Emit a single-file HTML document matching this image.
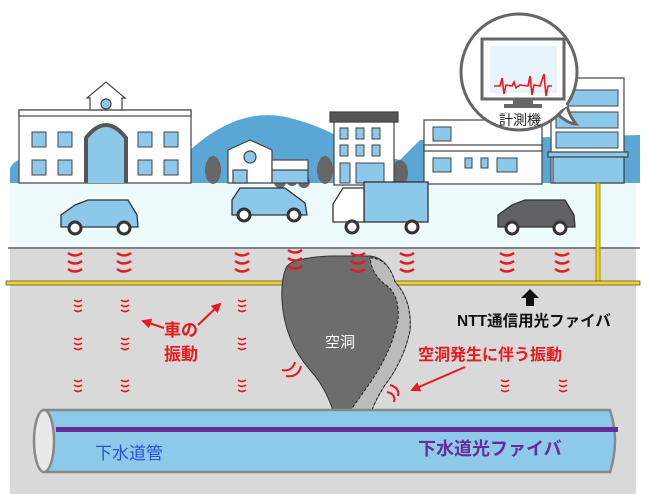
<!DOCTYPE html>
<html><head><meta charset="utf-8"><style>
html,body{margin:0;padding:0;background:#fff;}
svg{display:block;}
text{font-family:"Liberation Sans","Noto Sans CJK JP",sans-serif;}
</style></head><body>
<svg width="650" height="494" viewBox="0 0 650 494" xmlns="http://www.w3.org/2000/svg">
<defs>
<marker id="ar" viewBox="0 0 10 10" refX="8" refY="5" markerWidth="5" markerHeight="5" orient="auto"><path d="M0,0 L10,5 L0,10 z" fill="#e8191d"/></marker>
<g id="v"><path d="M-7,0 Q0,5 7,0 M-7,8 Q0,13 7,8 M-7,16 Q0,21 7,16" stroke="#e8191d" stroke-width="2.4" fill="none"/></g>
<g id="vs"><path d="M-4,0 Q0,3 4,0 M-4,5 Q0,8 4,5 M-4,10 Q0,13 4,10" stroke="#e8191d" stroke-width="1.6" fill="none"/></g>
</defs>
<rect width="650" height="494" fill="#fff"/>
<!-- mountain -->
<path d="M190,183 L190,150 Q240,105 290,118 Q330,128 360,150 L400,160 L420,140 L640,135 L640,183 Z" fill="#5aa7d6"/>
<path d="M10,183 L10,168 Q15,160 20,160 L20,183Z" fill="#5aa7d6"/>
<!-- road -->
<rect x="10" y="183" width="626" height="64" fill="#eefbfd"/>
<!-- ground -->
<rect x="10" y="247" width="626" height="247" fill="#d9d9d9"/>
<line x1="8" y1="248" x2="640" y2="248" stroke="#666" stroke-width="1.5"/>
<!-- school -->
<g stroke="#444" stroke-width="1.2">
<rect x="19" y="110" width="172" height="73" fill="#fff"/>
<rect x="19" y="110" width="172" height="6" fill="#fff"/>
<path d="M90,110 L90,98 L87,98 L106,82 L125,98 L122,98 L122,110 Z" fill="#fff"/>
<circle cx="106" cy="104" r="5" fill="#8cc8ea"/>
<path d="M86,183 L86,138 Q106,112 126,138 L126,183" fill="#8cc8ea" stroke-width="4" stroke="#555"/>
</g>
<g fill="#8cc8ea" stroke="#444" stroke-width="1">
<rect x="32" y="132" width="14" height="15"/><rect x="58" y="132" width="14" height="15"/><rect x="138" y="132" width="14" height="15"/><rect x="164" y="132" width="14" height="15"/>
<rect x="32" y="160" width="14" height="15"/><rect x="58" y="160" width="14" height="15"/><rect x="138" y="160" width="14" height="15"/><rect x="164" y="160" width="14" height="15"/>
</g>
<!-- trees -->
<g fill="#666">
<ellipse cx="213" cy="170" rx="8" ry="14"/><ellipse cx="325" cy="170" rx="8" ry="14"/><ellipse cx="400" cy="173" rx="8" ry="13"/><ellipse cx="533" cy="168" rx="8" ry="16"/>
<circle cx="280" cy="182" r="6"/><circle cx="292" cy="180" r="6"/><circle cx="304" cy="182" r="6"/>
</g>
<!-- house -->
<g stroke="#444" stroke-width="1.2">
<path d="M228,183 L228,150 L250,140 L272,150 L272,183 Z" fill="#fff"/>
<rect x="272" y="170" width="36" height="13" fill="#8cc8ea"/>
<rect x="272" y="160" width="36" height="10" fill="#fff"/>
<circle cx="250" cy="157" r="6" fill="#8cc8ea"/>
<rect x="233" y="170" width="14" height="13" fill="#8cc8ea"/>
</g>
<!-- dark roof building -->
<g stroke="#444" stroke-width="1.2">
<rect x="334" y="120" width="60" height="65" fill="#fff"/>
<rect x="330" y="112" width="68" height="10" fill="#555"/>
</g>
<g fill="#8cc8ea" stroke="#444">
<rect x="340" y="128" width="8" height="11"/><rect x="356" y="128" width="8" height="11"/><rect x="372" y="128" width="8" height="11"/>
<rect x="340" y="145" width="8" height="11"/><rect x="356" y="145" width="8" height="11"/><rect x="372" y="145" width="8" height="11"/>
<rect x="356" y="163" width="28" height="20"/><rect x="340" y="163" width="10" height="20"/>
</g>
<!-- building right-middle -->
<g stroke="#444" stroke-width="1.2">
<rect x="424" y="120" width="118" height="64" fill="#fff"/>
<rect x="424" y="145" width="118" height="6" fill="#fff"/>
</g>
<g fill="#8cc8ea" stroke="#444">
<rect x="433" y="158" width="18" height="14"/><rect x="465" y="158" width="7" height="10"/><rect x="481" y="158" width="7" height="10"/><rect x="497" y="158" width="20" height="14"/>
<rect x="433" y="127" width="18" height="14"/>
</g>
<!-- tall right building -->
<g stroke="#444" stroke-width="1.2">
<rect x="551" y="78" width="73" height="105" fill="#fff"/>
<rect x="548" y="152" width="80" height="5" fill="#8cc8ea"/>
<rect x="553" y="157" width="71" height="26" fill="#8cc8ea"/>
</g>
<g fill="#8cc8ea" stroke="#444">
<rect x="556" y="90" width="62" height="16"/><rect x="556" y="112" width="62" height="16"/><rect x="556" y="132" width="62" height="16"/>
</g>
<!-- bubble -->
<path d="M555,112 Q568,124 576,124 Q568,114 567,104" fill="#fff" stroke="#666" stroke-width="3"/>
<circle cx="519" cy="72" r="58" fill="#fff" stroke="#666" stroke-width="3"/>
<path d="M556,110 L566,104" stroke="#fff" stroke-width="5"/>
<rect x="482" y="39" width="82" height="60" fill="#fff" stroke="#666" stroke-width="3"/>
<rect x="490" y="46" width="67" height="47" fill="#e8f4fb"/>
<rect x="513" y="99" width="20" height="5" fill="#666"/>
<rect x="504" y="104" width="38" height="4" fill="#666"/>
<path d="M494,86 L500,86 L502,78 L504,94 L506,85 L512,86 L514,82 L516,88 L520,85 L528,86 L530,76 L532,95 L534,85 L540,86 L544,74 L546,96 L548,86 L552,86" stroke="#e8191d" stroke-width="1.6" fill="none"/>
<text x="520" y="125" font-size="14" fill="#222" text-anchor="middle">計測機</text>
<!-- cars -->
<g stroke="#333" stroke-width="1.3">
<path d="M61,227 L61,215 L75,205 L88,200 L128,200 L137,215 L138,227 Z" fill="#8cc8ea"/>
<path d="M232,215 L232,200 L240,188 L285,188 L305,203 L307,215 Z" fill="#8cc8ea"/>
<rect x="364" y="182" width="64" height="40" fill="#8cc8ea"/>
<path d="M333,222 L333,204 L343,188 L364,188 L364,222 Z" fill="#fff"/>
<path d="M498,227 L498,215 L512,205 L525,200 L565,200 L574,215 L575,227 Z" fill="#5f6365"/>
</g>
<g fill="#fff" stroke="#333" stroke-width="3">
<circle cx="75" cy="228" r="6"/><circle cx="124" cy="228" r="6"/>
<circle cx="244" cy="215" r="6"/><circle cx="294" cy="215" r="6"/>
<circle cx="352" cy="227" r="6"/><circle cx="412" cy="227" r="6"/>
<circle cx="512" cy="228" r="6"/><circle cx="560" cy="228" r="6"/>
</g>
<!-- yellow fiber -->
<rect x="596" y="183" width="4" height="100" fill="#f2d21a" stroke="#8a7a10" stroke-width="0.8"/>
<rect x="6" y="281" width="634" height="4" fill="#f2d21a" stroke="#555" stroke-width="0.8"/>
<!-- cavity -->
<path d="M286,268 Q290,258 330,256 L370,256 Q388,258 395,282 Q412,300 410,330 Q404,360 385,385 Q372,405 370,418 L335,418 Q328,390 310,370 Q284,340 282,300 Q281,280 286,268 Z" fill="#6d6d6d" stroke="#333"/>
<path d="M370,258 Q388,258 395,282 Q412,300 410,330 Q404,360 385,385 Q372,405 370,418 L345,418 Q358,400 372,380 Q392,350 398,320 Q400,295 386,285 Q372,275 370,258Z" fill="#bbb" stroke="#222" stroke-dasharray="3,2"/>
<ellipse cx="352" cy="419" rx="18" ry="4" fill="#555"/>
<text x="340" y="347" font-size="15" fill="#fff" text-anchor="middle">空洞</text>
<!-- vibrations -->
<use href="#v" x="75" y="253"/><use href="#v" x="124" y="253"/><use href="#v" x="242" y="253"/><use href="#v" x="295" y="250"/><use href="#v" x="358" y="253"/><use href="#v" x="407" y="253"/><use href="#v" x="507" y="253"/><use href="#v" x="562" y="253"/>
<use href="#vs" x="78" y="300"/><use href="#vs" x="125" y="300"/><use href="#vs" x="242" y="300"/>
<use href="#vs" x="78" y="338"/><use href="#vs" x="125" y="338"/><use href="#vs" x="242" y="338"/>
<use href="#vs" x="78" y="380"/><use href="#vs" x="125" y="380"/><use href="#vs" x="242" y="380"/><use href="#vs" x="505" y="380"/><use href="#vs" x="563" y="380"/>
<path d="M282,370 Q292,372 295,362 M286,376 Q298,378 301,366" stroke="#e8191d" stroke-width="2" fill="none"/>
<path d="M390,385 Q400,388 398,396 M387,392 Q396,394 394,402" stroke="#e8191d" stroke-width="2" fill="none"/>
<!-- labels -->
<text x="164" y="336" font-size="17" font-weight="bold" fill="#e8191d">車の</text>
<text x="164" y="360" font-size="17" font-weight="bold" fill="#e8191d">振動</text>
<line x1="164" y1="328" x2="143" y2="321" stroke="#e8191d" stroke-width="2" marker-end="url(#ar)"/>
<line x1="198" y1="325" x2="220" y2="304" stroke="#e8191d" stroke-width="2" marker-end="url(#ar)"/>
<text x="418" y="360" font-size="16" font-weight="bold" fill="#e8191d">空洞発生に伴う振動</text>
<line x1="465" y1="367" x2="412" y2="390" stroke="#e8191d" stroke-width="2" marker-end="url(#ar)"/>
<text x="457" y="326" font-size="15.5" font-weight="bold" fill="#111">NTT通信用光ファイバ</text>
<path d="M526,306 L526,298 L521,298 L530,289 L539,298 L534,298 L534,306Z" fill="#111"/>
<!-- pipe -->
<path d="M44,410 L610,410 Q620,441 610,472 L44,472 Z" fill="#8dcaea" stroke="#888" stroke-width="2.5"/>
<ellipse cx="44" cy="441" rx="10" ry="31" fill="#e9e9e9" stroke="#888" stroke-width="2.5"/>
<rect x="56" y="427" width="562" height="5" fill="#6a2b9a"/>
<text x="95" y="459" font-size="17" fill="#2b4fd8">下水道管</text>
<text x="418" y="455" font-size="18" font-weight="bold" fill="#6a2b9a">下水道光ファイバ</text>
</svg>
</body></html>
